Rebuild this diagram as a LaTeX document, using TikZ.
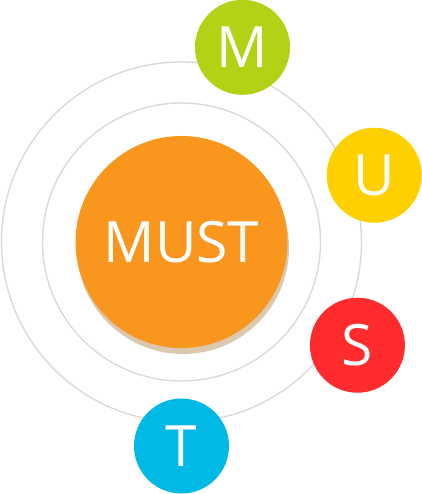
\documentclass[tikz,border=0pt]{standalone}
\usepackage{fontspec}
\setmainfont{Open Sans}
\definecolor{mustc}{HTML}{F9961E}
\definecolor{shadowc}{HTML}{DBC8AF}
\definecolor{ringc}{HTML}{D9D9D9}
\definecolor{mcol}{HTML}{B3D215}
\definecolor{ucol}{HTML}{FFD000}
\definecolor{scol}{HTML}{FF2B2D}
\definecolor{tcol}{HTML}{00BAE5}

\begin{document}
\begin{tikzpicture}[
  x=1pt, y=1pt,
  every node/.style={text=white},
  ring/.style={draw=ringc, line width=1.4pt},
  ball/.style={circle, inner sep=0pt, minimum size=95pt,
     font=\fontsize{57}{57}\selectfont},
  core/.style={ball, fill=mustc, minimum size=212pt},
]
\useasboundingbox (-181.5,-252) rectangle (239.5,242);
% --- radii ---
\def\rin{139pt}
\def\rout{180pt}
\def\rorb{204}
% rings
\draw[ring] (0,0) circle (\rout);
\draw[ring] (0,0) circle (\rin);
% centre with its shadow
\fill[shadowc] (1.5,-6) circle (106pt);
\node[core] (must) at (0,0) {MUST};
% --- letters on the orbit ---
\node[ball, fill=mcol] (m) at (72.6:\rorb)  {M};
\node[ball, fill=ucol] (u) at (19.1:\rorb)  {U};
\node[ball, fill=scol] (s) at (-30.4:\rorb) {S};
\node[ball, fill=tcol] (t) at (-90:\rorb)   {T};
\end{tikzpicture}
\end{document}
